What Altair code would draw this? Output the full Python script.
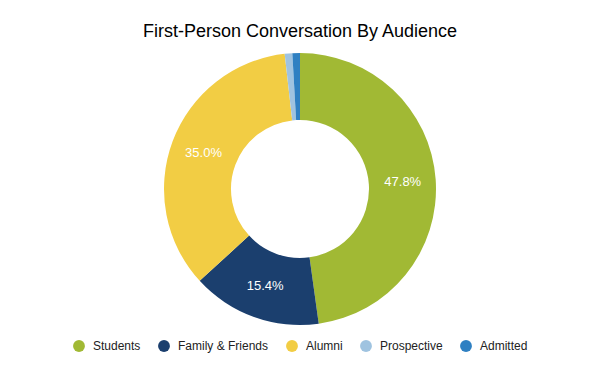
import altair as alt
import pandas as pd

categories = ["Students", "Family & Friends", "Alumni", "Prospective", "Admitted"]
values = [47.8, 15.4, 35.0, 0.9, 0.9]
colors = ["#a1b934", "#1b3f6e", "#f2cd44", "#9fc3e0", "#2f80c2"]

df = pd.DataFrame({"category": categories, "value": values, "order": list(range(len(categories)))})

CX, CY = 292, 141

color = alt.Color("category:N", scale=alt.Scale(domain=categories, range=colors),
                  sort=categories,
                  legend=alt.Legend(title=None, orient="none", direction="horizontal",
                                    legendX=65, legendY=292, padding=0,
                                    symbolType="circle", symbolSize=140, symbolStrokeWidth=0,
                                    labelFont="Liberation Sans", labelFontSize=12, labelColor="#222222",
                                    columnPadding=17, labelOffset=8))

base = alt.Chart(df).encode(
    theta=alt.Theta("value:Q", stack=True),
    order=alt.Order("order:Q"),
    x=alt.value(CX),
    y=alt.value(CY),
)

arcs = base.mark_arc(radius=136, innerRadius=69, strokeWidth=0).encode(color=color)

labels = base.transform_calculate(
    label="datum.value > 5 ? format(datum.value, '.1f') + '%' : ''"
).mark_text(radius=103, fontSize=13, font="Liberation Sans", color="white").encode(
    text="label:N"
)

chart = alt.layer(arcs, labels).properties(
    width=584, height=315,
    autosize=alt.AutoSizeParams(type="none"),
    padding={"left": 0, "top": 40, "right": 0, "bottom": 0},
    title=alt.Title("First-Person Conversation By Audience", font="Liberation Sans",
                    fontSize=18, fontWeight="normal", color="#000000", offset=7, anchor="middle"),
).configure_view(stroke=None)

chart.save("out.html", embed_options={"renderer": "svg", "actions": False})
